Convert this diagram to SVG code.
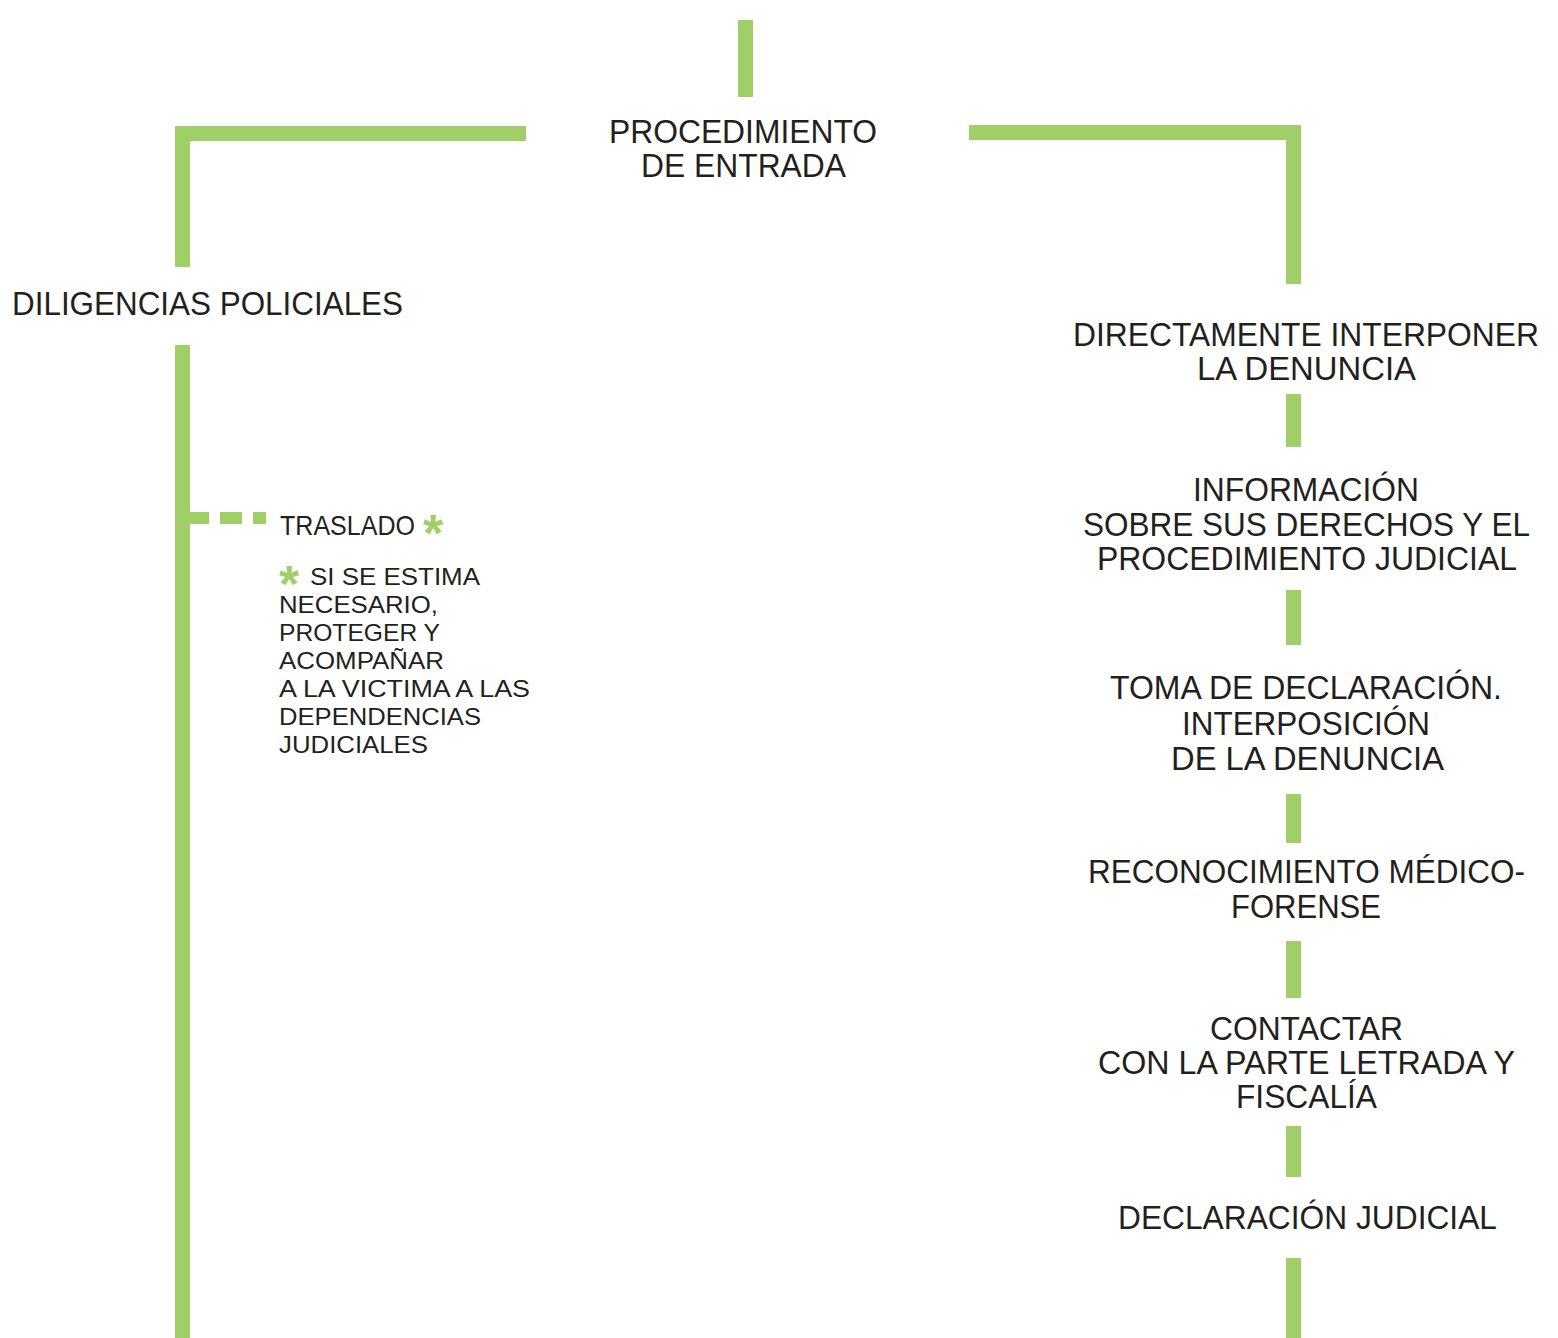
<svg xmlns="http://www.w3.org/2000/svg" width="1558" height="1338" viewBox="0 0 1558 1338">
<style>
.bar{fill:#a0cf67}
.t{font-family:"Liberation Sans",Arial,sans-serif;fill:#231f20}
.big{font-size:34px}
.sm{font-size:24px}
.c{text-anchor:middle}
.ast{font-family:"Liberation Sans",Arial,sans-serif;font-weight:bold;fill:#a0cf67;font-size:52px}
</style>
<rect width="1558" height="1338" fill="#ffffff"/>
<g id="connectors">
<rect class="bar" x="738" y="20" width="15" height="77"/>
<rect class="bar" x="175" y="126" width="351" height="15"/>
<rect class="bar" x="175" y="126" width="15" height="141"/>
<rect class="bar" x="969" y="125" width="332" height="15"/>
<rect class="bar" x="1286" y="125" width="15" height="159"/>
<rect class="bar" x="175" y="345" width="15" height="993"/>
<rect class="bar" x="190" y="512" width="19" height="12"/>
<rect class="bar" x="220" y="512" width="22" height="12"/>
<rect class="bar" x="253" y="512" width="13" height="12"/>
<rect class="bar" x="1286" y="394" width="15" height="53"/>
<rect class="bar" x="1286" y="590" width="15" height="55"/>
<rect class="bar" x="1286" y="794" width="15" height="49"/>
<rect class="bar" x="1286" y="941" width="15" height="57"/>
<rect class="bar" x="1286" y="1126" width="15" height="51"/>
<rect class="bar" x="1286" y="1258" width="15" height="80"/>
</g>
<g id="procedimiento-de-entrada">
<text class="t big c" x="743" y="142.5" textLength="268" lengthAdjust="spacingAndGlyphs">PROCEDIMIENTO</text>
<text class="t big c" x="743.5" y="176.5" textLength="205" lengthAdjust="spacingAndGlyphs">DE ENTRADA</text>
</g>
<g id="diligencias-policiales">
<text class="t big" x="12" y="315" textLength="391" lengthAdjust="spacingAndGlyphs">DILIGENCIAS POLICIALES</text>
</g>
<g id="traslado">
<text class="t"><tspan x="280" y="535" style="font-size:28px" textLength="135" lengthAdjust="spacingAndGlyphs">TRASLADO</tspan><tspan class="ast" x="423" y="551">*</tspan></text>
<text class="t sm"><tspan class="ast" x="279" y="602">*</tspan><tspan x="310" y="585" textLength="170" lengthAdjust="spacingAndGlyphs">SI SE ESTIMA</tspan></text>
<text class="t sm" x="279" y="613" textLength="159" lengthAdjust="spacingAndGlyphs">NECESARIO,</text>
<text class="t sm" x="279" y="641" textLength="161" lengthAdjust="spacingAndGlyphs">PROTEGER Y</text>
<text class="t sm" x="279" y="669" textLength="165" lengthAdjust="spacingAndGlyphs">ACOMPAÑAR</text>
<text class="t sm" x="279" y="697" textLength="251" lengthAdjust="spacingAndGlyphs">A LA VICTIMA A LAS</text>
<text class="t sm" x="279" y="725" textLength="202" lengthAdjust="spacingAndGlyphs">DEPENDENCIAS</text>
<text class="t sm" x="279" y="753" textLength="149" lengthAdjust="spacingAndGlyphs">JUDICIALES</text>
</g>
<g id="directamente-interponer">
<text class="t big c" x="1306" y="346" textLength="466" lengthAdjust="spacingAndGlyphs">DIRECTAMENTE INTERPONER</text>
<text class="t big c" x="1306.5" y="380" textLength="219" lengthAdjust="spacingAndGlyphs">LA DENUNCIA</text>
</g>
<g id="informacion">
<text class="t big c" x="1306" y="501" textLength="226" lengthAdjust="spacingAndGlyphs">INFORMACIÓN</text>
<text class="t big c" x="1306.5" y="536" textLength="447" lengthAdjust="spacingAndGlyphs">SOBRE SUS DERECHOS Y EL</text>
<text class="t big c" x="1307" y="570" textLength="420" lengthAdjust="spacingAndGlyphs">PROCEDIMIENTO JUDICIAL</text>
</g>
<g id="toma-de-declaracion">
<text class="t big c" x="1306" y="699" textLength="392" lengthAdjust="spacingAndGlyphs">TOMA DE DECLARACIÓN.</text>
<text class="t big c" x="1306" y="735" textLength="248" lengthAdjust="spacingAndGlyphs">INTERPOSICIÓN</text>
<text class="t big c" x="1307.5" y="770" textLength="273" lengthAdjust="spacingAndGlyphs">DE LA DENUNCIA</text>
</g>
<g id="reconocimiento">
<text class="t big c" x="1306.5" y="883" textLength="437" lengthAdjust="spacingAndGlyphs">RECONOCIMIENTO MÉDICO-</text>
<text class="t big c" x="1306" y="918" textLength="150" lengthAdjust="spacingAndGlyphs">FORENSE</text>
</g>
<g id="contactar">
<text class="t big c" x="1306.5" y="1040" textLength="193" lengthAdjust="spacingAndGlyphs">CONTACTAR</text>
<text class="t big c" x="1306.5" y="1074" textLength="417" lengthAdjust="spacingAndGlyphs">CON LA PARTE LETRADA Y</text>
<text class="t big c" x="1306.5" y="1108" textLength="141" lengthAdjust="spacingAndGlyphs">FISCALÍA</text>
</g>
<g id="declaracion-judicial">
<text class="t big c" x="1307.5" y="1229" textLength="379" lengthAdjust="spacingAndGlyphs">DECLARACIÓN JUDICIAL</text>
</g>
</svg>
